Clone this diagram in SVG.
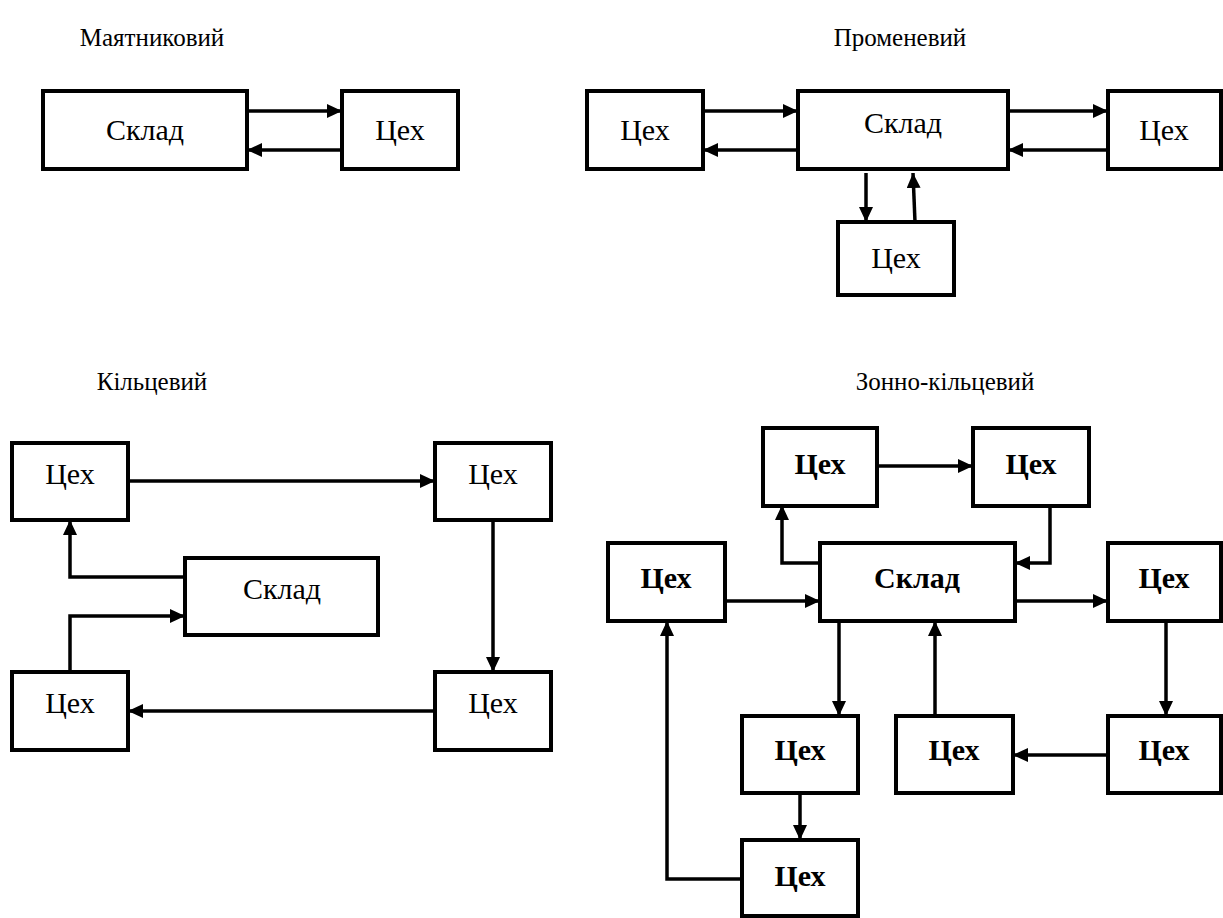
<svg xmlns="http://www.w3.org/2000/svg" width="1223" height="918" viewBox="0 0 1223 918">
  <style>
    .box { fill: #fff; stroke: #000; stroke-width: 4; }
    text { font-family: "Liberation Serif", "Times New Roman", serif; fill: #000; text-anchor: middle; }
    .lbl { font-size: 30px; }
    .bold { font-weight: bold; }
    .title { font-size: 25px; }
    .wire { fill: none; stroke: #000; stroke-width: 3.5; }
    .arr { marker-end: url(#head); }
  </style>
  <defs>
    <marker id="head" markerUnits="userSpaceOnUse" markerWidth="16" markerHeight="14" refX="15" refY="7" orient="auto">
      <path d="M0,0 L15,7 L0,14 z" fill="#000"/>
    </marker>
  </defs>
  <rect width="1223" height="918" fill="#fff"/>

  <!-- scheme titles -->
  <g id="titles">
    <text class="title" x="152" y="46">Маятниковий</text>
    <text class="title" x="900" y="46">Променевий</text>
    <text class="title" x="152" y="390">Кільцевий</text>
    <text class="title" x="945" y="390">Зонно-кільцевий</text>
  </g>

  <!-- connectors -->
  <g id="connectors">
    <!-- pendulum -->
    <line class="wire arr" x1="247" y1="111" x2="342" y2="111"/>
    <line class="wire arr" x1="342" y1="150" x2="247" y2="150"/>
    <!-- radial -->
    <line class="wire arr" x1="703" y1="111" x2="798" y2="111"/>
    <line class="wire arr" x1="798" y1="150" x2="703" y2="150"/>
    <line class="wire arr" x1="1008" y1="111" x2="1108" y2="111"/>
    <line class="wire arr" x1="1108" y1="150" x2="1008" y2="150"/>
    <line class="wire arr" x1="866" y1="173" x2="866" y2="222"/>
    <line class="wire arr" x1="915" y1="222" x2="913" y2="173"/>
    <!-- ring -->
    <line class="wire arr" x1="128" y1="481" x2="435" y2="481"/>
    <line class="wire arr" x1="493" y1="520" x2="493" y2="672"/>
    <line class="wire arr" x1="435" y1="711" x2="128" y2="711"/>
    <polyline class="wire arr" points="70,672 70,616 185,616"/>
    <polyline class="wire arr" points="185,577 70,577 70,520"/>
    <!-- zone ring -->
    <line class="wire arr" x1="876" y1="466" x2="973" y2="466"/>
    <polyline class="wire arr" points="820,563 782,563 782,505"/>
    <polyline class="wire arr" points="1050,505 1050,563 1015,563"/>
    <line class="wire arr" x1="725" y1="601" x2="820" y2="601"/>
    <line class="wire arr" x1="1015" y1="601" x2="1108" y2="601"/>
    <line class="wire arr" x1="839" y1="621" x2="839" y2="716"/>
    <line class="wire arr" x1="935" y1="716" x2="935" y2="621"/>
    <line class="wire arr" x1="1166" y1="621" x2="1166" y2="716"/>
    <line class="wire arr" x1="1108" y1="755" x2="1013" y2="755"/>
    <line class="wire arr" x1="800" y1="793" x2="800" y2="840"/>
    <polyline class="wire arr" points="742,879 667,879 667,621"/>
  </g>

  <!-- pendulum scheme -->
  <g id="p-sklad"><rect class="box" x="43" y="91" width="204" height="78"/><text class="lbl" x="145" y="140">Склад</text></g>
  <g id="p-tsekh"><rect class="box" x="342" y="91" width="116" height="78"/><text class="lbl" x="400" y="140">Цех</text></g>

  <!-- radial scheme -->
  <g id="r-tsekh-left"><rect class="box" x="587" y="91" width="116" height="78"/><text class="lbl" x="645" y="140">Цех</text></g>
  <g id="r-sklad"><rect class="box" x="798" y="91" width="210" height="78"/><text class="lbl" x="903" y="133">Склад</text></g>
  <g id="r-tsekh-right"><rect class="box" x="1108" y="91" width="113" height="78"/><text class="lbl" x="1164" y="140">Цех</text></g>
  <g id="r-tsekh-bottom"><rect class="box" x="838" y="222" width="116" height="73"/><text class="lbl" x="896" y="268">Цех</text></g>

  <!-- ring scheme -->
  <g id="k-tsekh-tl"><rect class="box" x="12" y="443" width="116" height="77"/><text class="lbl" x="70" y="484">Цех</text></g>
  <g id="k-tsekh-tr"><rect class="box" x="435" y="443" width="116" height="77"/><text class="lbl" x="493" y="484">Цех</text></g>
  <g id="k-sklad"><rect class="box" x="185" y="558" width="193" height="77"/><text class="lbl" x="282" y="599">Склад</text></g>
  <g id="k-tsekh-bl"><rect class="box" x="12" y="672" width="116" height="78"/><text class="lbl" x="70" y="713">Цех</text></g>
  <g id="k-tsekh-br"><rect class="box" x="435" y="672" width="116" height="78"/><text class="lbl" x="493" y="713">Цех</text></g>

  <!-- zone ring scheme -->
  <g id="z-tsekh-t1"><rect class="box" x="763" y="428" width="114" height="78"/><text class="lbl bold" x="820" y="474">Цех</text></g>
  <g id="z-tsekh-t2"><rect class="box" x="973" y="428" width="116" height="78"/><text class="lbl bold" x="1031" y="474">Цех</text></g>
  <g id="z-tsekh-left"><rect class="box" x="608" y="543" width="117" height="78"/><text class="lbl bold" x="666" y="588">Цех</text></g>
  <g id="z-sklad"><rect class="box" x="820" y="543" width="195" height="78"/><text class="lbl bold" x="917" y="588">Склад</text></g>
  <g id="z-tsekh-right"><rect class="box" x="1108" y="543" width="113" height="78"/><text class="lbl bold" x="1164" y="588">Цех</text></g>
  <g id="z-tsekh-a"><rect class="box" x="742" y="716" width="116" height="77"/><text class="lbl bold" x="800" y="760">Цех</text></g>
  <g id="z-tsekh-b"><rect class="box" x="896" y="716" width="117" height="77"/><text class="lbl bold" x="954" y="760">Цех</text></g>
  <g id="z-tsekh-c"><rect class="box" x="1108" y="716" width="113" height="77"/><text class="lbl bold" x="1164" y="760">Цех</text></g>
  <g id="z-tsekh-d"><rect class="box" x="742" y="840" width="116" height="76"/><text class="lbl bold" x="800" y="886">Цех</text></g>
</svg>
